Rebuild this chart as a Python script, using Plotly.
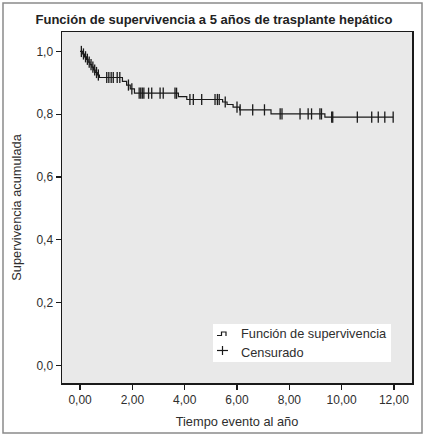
import numpy as np
import plotly.graph_objects as go

# ---- data ----
event_times = [0.00, 0.10, 0.17, 0.25, 0.31, 0.38, 0.45, 0.52, 0.58, 0.66, 0.74,
               1.62, 1.78, 1.92, 2.08, 3.76, 4.08, 5.45, 5.62, 5.85, 6.10,
               7.30, 9.36]
survival = [1.000, 0.992, 0.983, 0.975, 0.966, 0.958, 0.950, 0.941, 0.933, 0.925, 0.917,
            0.905, 0.893, 0.881, 0.867, 0.856, 0.847, 0.839, 0.831, 0.823, 0.814,
            0.801, 0.791]
censor_times = [0.05, 0.13, 0.21, 0.28, 0.35, 0.42, 0.49, 0.56, 0.63, 0.70,
                1.02, 1.10, 1.19, 1.27, 1.42, 1.52, 1.85, 1.98,
                2.26, 2.32, 2.38, 2.44, 2.62, 2.74, 3.06, 3.18, 3.63, 3.69,
                4.20, 4.33, 4.65, 5.16, 5.25, 5.32, 5.55, 6.00, 6.12, 6.60, 7.05,
                7.65, 7.72, 8.41, 8.72, 8.85, 9.17, 9.23, 9.62, 9.66,
                10.60, 11.15, 11.40, 11.65, 11.97]
end_time = 11.97
x_ticks = [0, 2, 4, 6, 8, 10, 12]
x_ticktext = ["0,00", "2,00", "4,00", "6,00", "8,00", "10,00", "12,00"]
y_ticks = [0.0, 0.2, 0.4, 0.6, 0.8, 1.0]
y_ticktext = ["0,0", "0,2", "0,4", "0,6", "0,8", "1,0"]
title_text = "Función de supervivencia a 5 años de trasplante hepático"
legend_labels = ["Función de supervivencia", "Censurado"]

# survival value at each censoring time, from the step function
ev = np.array(event_times)
sv = np.array(survival)
censor_surv = [float(sv[np.searchsorted(ev, t, side="right") - 1]) for t in censor_times]

curve_x = list(event_times) + [end_time]
curve_y = list(survival) + [survival[-1]]

FONT = "Liberation Sans, Arial, sans-serif"
TXT = "#2e2e2e"

fig = go.Figure()
fig.add_trace(go.Scatter(x=curve_x, y=curve_y, mode="lines",
                         line=dict(shape="hv", color="#1a1a1a", width=1.2),
                         showlegend=False, name=legend_labels[0], hoverinfo="skip"))
fig.add_trace(go.Scatter(x=censor_times, y=censor_surv, mode="markers",
                         marker=dict(symbol="line-ns", size=8,
                                     line=dict(color="#1a1a1a", width=1.3)),
                         showlegend=False, name=legend_labels[1], hoverinfo="skip"))

W, H = 428, 437
L, R, T, B = 62, 412, 32, 383

def px(x):
    return (x - L) / (R - L)

def py(y):
    return (B - y) / (B - T)

shapes = [
    # outer frame
    dict(type="rect", xref="paper", yref="paper", x0=px(3), x1=px(422), y0=py(433), y1=py(3),
         line=dict(color="#8a8a8a", width=1.5), fillcolor="rgba(0,0,0,0)", layer="below"),
    # legend box
    dict(type="rect", xref="paper", yref="paper", x0=px(213), x1=px(391), y0=py(362), y1=py(324),
         line=dict(width=0), fillcolor="white", layer="above"),
    # step icon
    dict(type="path", xref="paper", yref="paper",
         path=f"M {px(217)} {py(335.5)} L {px(221.5)} {py(335.5)} L {px(221.5)} {py(332)} "
              f"L {px(226)} {py(332)} L {px(226)} {py(336)}",
         line=dict(color="#1a1a1a", width=1.2), layer="above"),
    # censor icon
    dict(type="line", xref="paper", yref="paper", x0=px(217), x1=px(228), y0=py(350.5), y1=py(350.5),
         line=dict(color="#1a1a1a", width=1.2), layer="above"),
    dict(type="line", xref="paper", yref="paper", x0=px(222.5), x1=px(222.5), y0=py(346), y1=py(355),
         line=dict(color="#1a1a1a", width=1.2), layer="above"),
]

annotations = [
    dict(text=legend_labels[0], xref="paper", yref="paper", x=px(239), y=py(333.5),
         xanchor="left", yanchor="middle", showarrow=False,
         font=dict(family=FONT, size=12.8, color=TXT)),
    dict(text=legend_labels[1], xref="paper", yref="paper", x=px(239), y=py(352.5),
         xanchor="left", yanchor="middle", showarrow=False,
         font=dict(family=FONT, size=12.8, color=TXT)),
]

fig.update_layout(
    width=W, height=H,
    margin=dict(l=L, r=W - R, t=T, b=H - B, pad=0, autoexpand=False),
    paper_bgcolor="white",
    plot_bgcolor="#e9e9e9",
    hovermode=False,
    title=dict(text=f"<b>{title_text}</b>", x=0.5, xanchor="center",
               y=1 - 19 / H, yanchor="middle", yref="container",
               font=dict(family=FONT, size=13, color="#222222")),
    xaxis=dict(range=[-0.69, 12.69], tickvals=x_ticks, ticktext=x_ticktext,
               showgrid=False, zeroline=False, showline=True, mirror=True,
               linecolor="#1a1a1a", linewidth=1.5, automargin=False,
               ticks="outside", ticklen=5, tickwidth=1.2, tickcolor="#1a1a1a",
               tickfont=dict(family=FONT, size=12, color=TXT),
               title=dict(text="Tiempo evento al año", standoff=11,
                          font=dict(family=FONT, size=12.8, color=TXT))),
    yaxis=dict(range=[-0.056, 1.062], tickvals=y_ticks, ticktext=y_ticktext,
               showgrid=False, zeroline=False, showline=True, mirror=True,
               linecolor="#1a1a1a", linewidth=1.5, automargin=False,
               ticks="outside", ticklen=5, tickwidth=1.2, tickcolor="#1a1a1a",
               tickfont=dict(family=FONT, size=12, color=TXT),
               title=dict(text="Supervivencia acumulada", standoff=12,
                          font=dict(family=FONT, size=12.8, color=TXT))),
    shapes=shapes,
    annotations=annotations,
    showlegend=False,
)

fig.write_html("out.html", config={"displayModeBar": False, "staticPlot": True},
               post_script="document.body.style.margin='0';")
